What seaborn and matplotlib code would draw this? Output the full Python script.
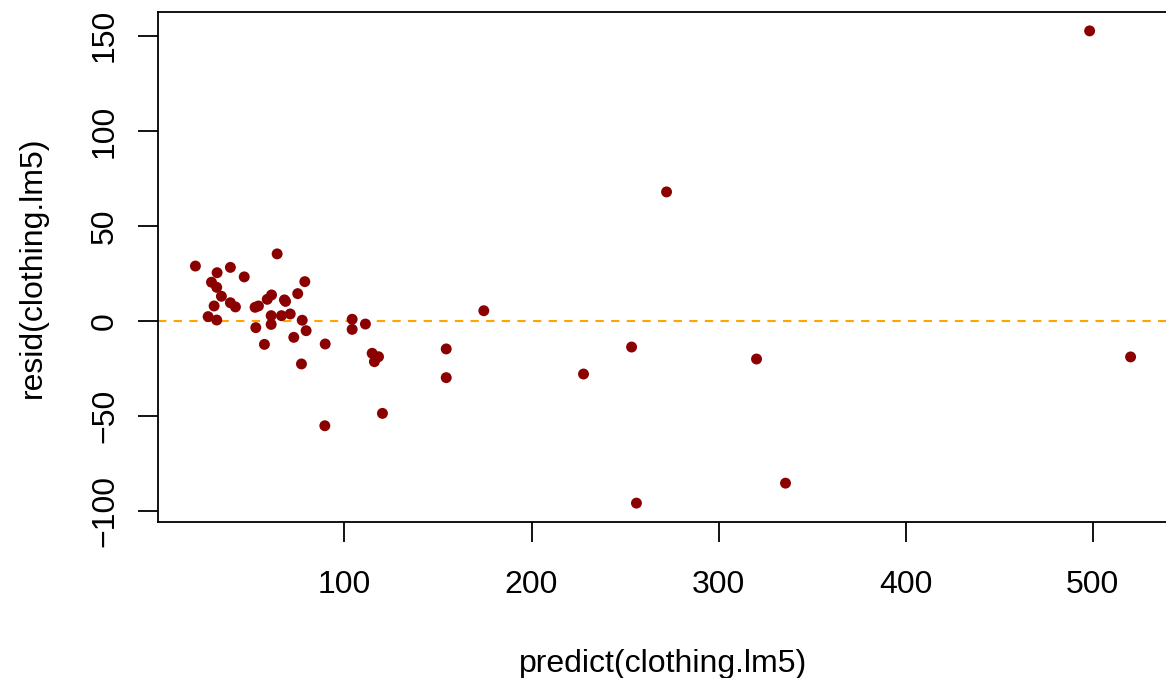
import matplotlib
matplotlib.use("Agg")
import matplotlib.pyplot as plt
import seaborn as sns
import pandas as pd
import numpy as np

# Data
predicted = [20.3, 31.9, 39.0, 46.4, 64.0, 28.9, 31.7, 34.2, 30.3, 39.0,
             41.7, 27.1, 31.7, 52.2, 54.0, 58.7, 61.0, 67.9, 68.5, 75.0,
             78.8, 60.8, 66.3, 71.0, 60.8, 52.6, 77.4, 79.5, 72.9, 57.2,
             89.7, 77.0, 104.1, 104.1, 174.5, 111.2, 114.8, 118.2, 116.0, 154.4,
             154.4, 120.3, 89.5, 227.8, 253.5, 272.2, 256.1, 320.3, 335.8, 498.4,
             520.3]
residuals = [28.9, 25.4, 28.2, 23.2, 35.3, 20.4, 17.7, 13.0, 7.9, 9.6,
             7.4, 2.3, 0.5, 7.2, 7.9, 11.4, 13.7, 11.1, 10.3, 14.4,
             20.7, 2.8, 2.8, 3.7, -1.8, -3.5, 0.4, -5.1, -8.6, -12.3,
             -12.1, -22.6, 0.9, -4.4, 5.4, -1.6, -17.0, -18.8, -21.4, -14.7,
             -29.8, -48.6, -55.1, -27.9, -13.7, 67.9, -95.8, -20.0, -85.3, 152.6,
             -18.9]
x_ticks = [100, 200, 300, 400, 500]
y_ticks = [-100, -50, 0, 50, 100, 150]

df = pd.DataFrame({"predict": predicted, "resid": residuals})

sns.set_style("white")
plt.rcParams["font.family"] = ["Liberation Sans", "DejaVu Sans"]
plt.rcParams["text.color"] = "black"
plt.rcParams["axes.labelcolor"] = "black"
plt.rcParams["xtick.color"] = "black"
plt.rcParams["ytick.color"] = "black"

W, H = 1166, 678
fig = plt.figure(figsize=(W / 100, H / 100), dpi=100)
left, right, top, bottom = 158, 1168, 12, 522
ax = fig.add_axes([left / W, 1 - bottom / H, (right - left) / W, (bottom - top) / H])

sns.scatterplot(data=df, x="predict", y="resid", ax=ax, color="#8B0000",
                s=62, edgecolor="none", linewidth=0, zorder=3)
ax.axhline(0, color="#FFA500", linestyle=(0, (4, 3.5)), linewidth=1.5, zorder=2)

# R-style 4% padding
xr = max(predicted) - min(predicted)
yr = max(residuals) - min(residuals)
ax.set_xlim(min(predicted) - 0.04 * xr, max(predicted) + 0.04 * xr)
ax.set_ylim(min(residuals) - 0.04 * yr, max(residuals) + 0.04 * yr)

ax.set_xticks(x_ticks)
ax.set_yticks(y_ticks)
ax.set_xticklabels([str(v) for v in x_ticks])
ax.set_yticklabels([str(v).replace("-", "\u2212") for v in y_ticks],
                   rotation=90, va="center")
ax.tick_params(axis="both", which="both", direction="out", length=14.4,
               width=1.3, color="black", labelcolor="black", labelsize=23,
               bottom=True, left=True, top=False, right=False)
ax.tick_params(axis="x", pad=20)
ax.tick_params(axis="y", pad=13)
for sp in ax.spines.values():
    sp.set_visible(True)
    sp.set_color("black")
    sp.set_linewidth(1.3)

ax.set_xlabel("predict(clothing.lm5)", fontsize=23, color="black")
ax.set_ylabel("resid(clothing.lm5)", fontsize=23, color="black")
ax.xaxis.set_label_coords(0.5, (522 - 649) / 510)
ax.yaxis.set_label_coords((48 - 158) / 1010, 0.5)

fig.savefig("out.png", dpi=100)
